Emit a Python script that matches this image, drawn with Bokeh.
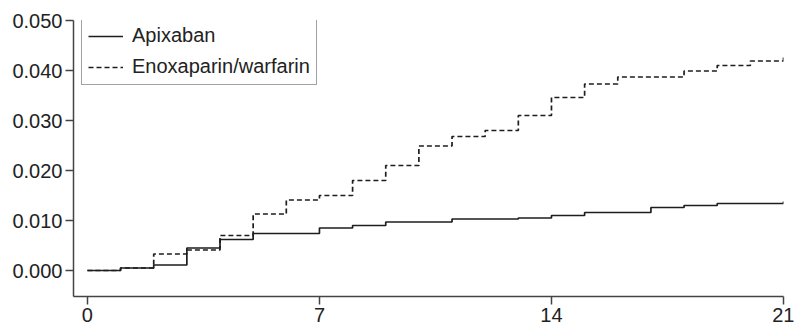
from bokeh.plotting import figure
from bokeh.models import Range1d, FixedTicker, PrintfTickFormatter, Legend, LegendItem
from bokeh.embed import file_html
from bokeh.resources import INLINE

# Data (days since start, cumulative event rate)
days = [0, 1, 2, 3, 4, 5, 6, 7, 8, 9, 10, 11, 12, 13, 14, 15, 16, 17, 18, 19, 20, 21]
apixaban = [0.0, 0.0005, 0.0011, 0.0045, 0.0062, 0.0074, 0.0074, 0.0085, 0.0090, 0.0097, 0.0097,
            0.0103, 0.0103, 0.0105, 0.0110, 0.0116, 0.0116, 0.0126, 0.0130, 0.0134, 0.0134, 0.0138]
enox_warf = [0.0, 0.0005, 0.0033, 0.0041, 0.0070, 0.0113, 0.0141, 0.0150, 0.0180, 0.0210, 0.0249,
             0.0268, 0.0280, 0.0310, 0.0346, 0.0373, 0.0387, 0.0387, 0.0399, 0.0410, 0.0419, 0.0430]
x_ticks = [0, 7, 14, 21]
y_ticks = [0.0, 0.01, 0.02, 0.03, 0.04, 0.05]
series_names = ["Apixaban", "Enoxaparin/warfarin"]

FONT = "Liberation Sans"
TXT = "#222222"
AX = "#444444"

p = figure(width=794, height=331, x_range=Range1d(-0.42, 21), y_range=Range1d(-0.0052, 0.05),
           output_backend="svg", toolbar_location=None,
           min_border_left=73, min_border_top=20, min_border_right=11, min_border_bottom=35)
p.outline_line_color = None
p.grid.visible = False
p.background_fill_color = "white"

r1 = p.step(days, apixaban, mode="after", line_color="#1e1e1e", line_width=1.7)
r2 = p.step(days, enox_warf, mode="after", line_color="#1e1e1e", line_width=1.7, line_dash="5 3")

for ax in (p.xaxis[0], p.yaxis[0]):
    ax.axis_line_color = AX
    ax.axis_line_width = 1.5
    ax.major_tick_line_color = AX
    ax.major_tick_line_width = 1.5
    ax.major_tick_out = 8
    ax.major_tick_in = 0
    ax.minor_tick_line_color = None
    ax.major_label_text_font = FONT
    ax.major_label_text_font_size = "20px"
    ax.major_label_text_color = TXT

p.xaxis[0].ticker = FixedTicker(ticks=x_ticks)
p.yaxis[0].ticker = FixedTicker(ticks=y_ticks)
p.yaxis[0].formatter = PrintfTickFormatter(format="%.3f")
p.xaxis[0].major_label_standoff = 3
p.yaxis[0].major_label_standoff = 3

legend = Legend(items=[LegendItem(label=series_names[0], renderers=[r1]),
                       LegendItem(label=series_names[1], renderers=[r2])],
                location=(8, 211))
legend.title = " "
legend.title_text_font_size = "5px"
legend.title_standoff = 0
legend.margin = 0
legend.padding = 6
legend.spacing = 8
legend.glyph_width = 35
legend.glyph_height = 20
legend.label_height = 20
legend.label_standoff = 9
legend.label_text_font = FONT
legend.label_text_font_size = "20px"
legend.label_text_color = TXT
legend.border_line_color = AX
legend.border_line_width = 1.2
legend.background_fill_alpha = 1
p.add_layout(legend, "center")

open("out.html", "w").write(file_html(p, INLINE))
